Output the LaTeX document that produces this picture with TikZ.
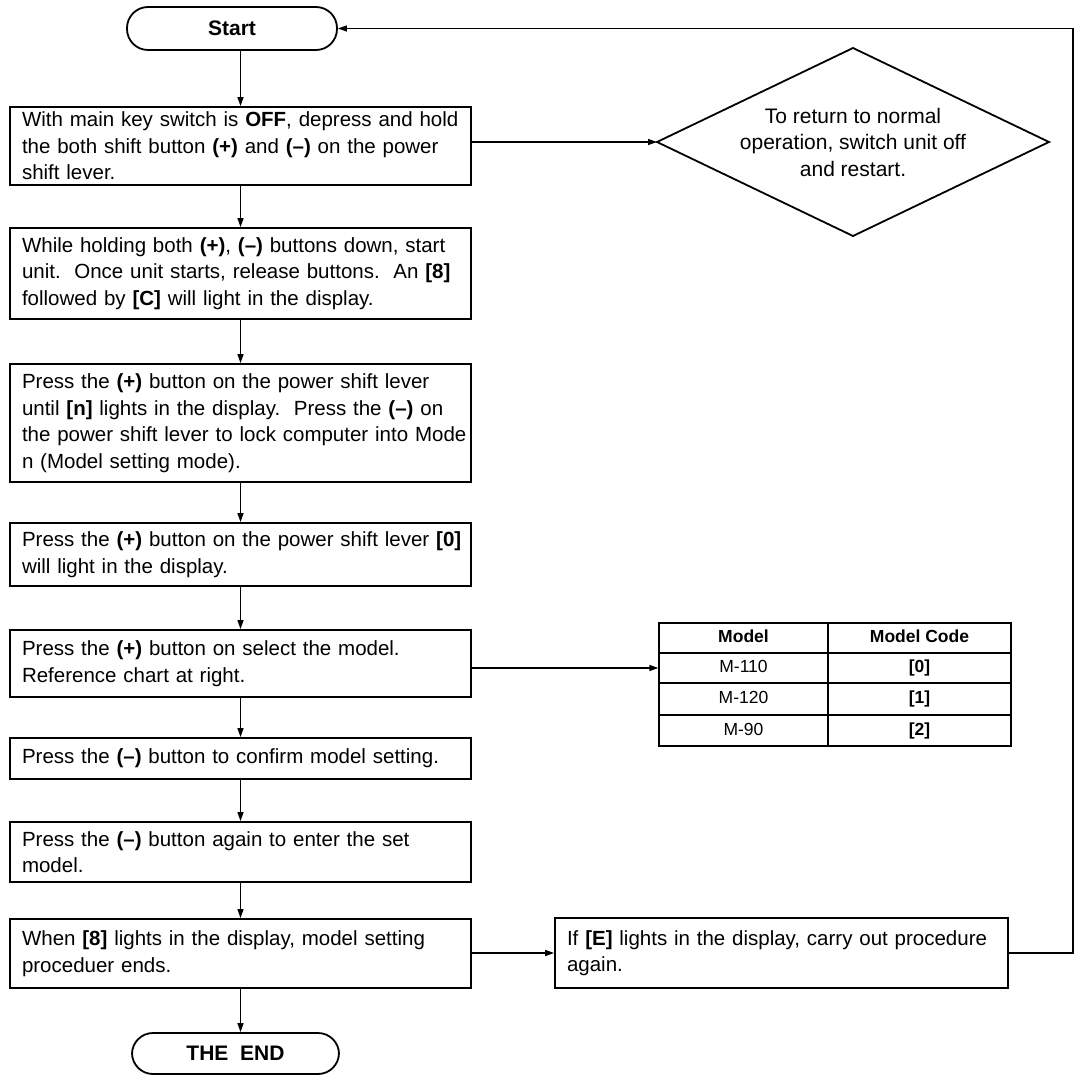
\documentclass[tikz,border=0pt]{standalone}
\usepackage{fontspec}
\setmainfont{Liberation Sans}
\usetikzlibrary{arrows.meta,shapes.geometric}
\begin{document}
\begin{tikzpicture}[x=1pt,y=-1pt,
  stepbox/.style={draw, line width=1.8pt, rectangle, inner xsep=12pt, inner ysep=0pt, align=left, font=\fontsize{20.5}{26.5}\selectfont, anchor=center},
  pill/.style={draw, line width=1.8pt, rectangle, rounded corners=21pt, inner sep=0pt, font=\fontsize{21}{25}\selectfont\bfseries},
  arr/.style={line width=1.4pt, -{Triangle[length=9pt,width=6pt]}},
  cell/.style={draw, line width=1.4pt, inner sep=0pt, text height=12.5pt, text depth=3.5pt, font=\fontsize{17.5}{20}\selectfont},
  diatext/.style={align=center, inner sep=0pt, font=\fontsize{21}{26.5}\selectfont},
]
\useasboundingbox (0,0) rectangle (1076,1075);

% terminals
\node[pill, minimum width=210pt, minimum height=43pt] (start) at (232,28.5) {Start};
\node[pill, minimum width=207pt, minimum height=41pt] (end) at (235.5,1053.5) {THE\ \ END};

% steps
\node[stepbox, minimum width=461pt, minimum height=78pt, text width=437pt] (b1) at (240.5,146)
 {\mbox{With main key switch is \textbf{OFF}, depress and hold}\\\mbox{the both shift button \textbf{(+)} and \textbf{(--)} on the power}\\\mbox{shift lever.}};
\node[stepbox, minimum width=461pt, minimum height=91pt, text width=437pt] (b2) at (240.5,273.5)
 {\mbox{While holding both \textbf{(+)}, \textbf{(--)} buttons down, start}\\\mbox{unit.\ \ Once unit starts, release buttons.\ \ An \textbf{[8]}}\\\mbox{followed by \textbf{[C]} will light in the display.}};
\node[stepbox, minimum width=461pt, minimum height=118pt, text width=437pt] (b3) at (240.5,423)
 {\mbox{Press the \textbf{(+)} button on the power shift lever}\\\mbox{until \textbf{[n]} lights in the display.\ \ Press the \textbf{(--)} on}\\\mbox{the power shift lever to lock computer into Mode}\\\mbox{n (Model setting mode).}};
\node[stepbox, minimum width=461pt, minimum height=63pt, text width=437pt] (b4) at (240.5,554.5)
 {\mbox{Press the \textbf{(+)} button on the power shift lever \textbf{[0]}}\\\mbox{will light in the display.}};
\node[stepbox, minimum width=461pt, minimum height=67pt, text width=437pt] (b5) at (240.5,663.5)
 {\mbox{Press the \textbf{(+)} button on select the model.}\\\mbox{Reference chart at right.}};
\node[stepbox, minimum width=461pt, minimum height=41pt, text width=437pt] (b6) at (240.5,758.5)
 {\mbox{Press the \textbf{(--)} button to confirm model setting.}};
\node[stepbox, minimum width=461pt, minimum height=60pt, text width=437pt] (b7) at (240.5,852)
 {\mbox{Press the \textbf{(--)} button again to enter the set}\\\mbox{model.}};
\node[stepbox, minimum width=461pt, minimum height=69pt, text width=437pt] (b8) at (240.5,953.5)
 {\mbox{When \textbf{[8]} lights in the display, model setting}\\\mbox{proceduer ends.}};
\node[stepbox, minimum width=453pt, minimum height=70pt, text width=429pt] (eb) at (781.5,953)
 {\mbox{If \textbf{[E]} lights in the display, carry out procedure}\\\mbox{again.}};

% decision
\coordinate (dtop) at (853,48);
\coordinate (dright) at (1049,142);
\coordinate (dbot) at (853,236);
\coordinate (dleft) at (657,142);
\draw[line width=1.8pt, line join=miter] (dtop) -- (dright) -- (dbot) -- (dleft) -- cycle;
\node[diatext] (dia) at (853,142) {To return to normal\\operation, switch unit off\\and restart.};

% table
\node[cell, minimum width=169pt, minimum height=30pt] (h1) at (743.5,638) {\bfseries Model};
\node[cell, minimum width=183pt, minimum height=30pt] (h2) at (919.5,638) {\bfseries Model Code};
\node[cell, minimum width=169pt, minimum height=30pt] (m1) at (743.5,668) {M-110};
\node[cell, minimum width=183pt, minimum height=30pt] (c1) at (919.5,668) {\bfseries [0]};
\node[cell, minimum width=169pt, minimum height=32pt] (m2) at (743.5,699) {M-120};
\node[cell, minimum width=183pt, minimum height=32pt] (c2) at (919.5,699) {\bfseries [1]};
\node[cell, minimum width=169pt, minimum height=31pt] (m3) at (743.5,730.5) {M-90};
\node[cell, minimum width=183pt, minimum height=31pt] (c3) at (919.5,730.5) {\bfseries [2]};

% connectors
\draw[arr] (start.south -| b1.north) -- (b1.north);
\draw[arr] (b1) -- (b2);
\draw[arr] (b2) -- (b3);
\draw[arr] (b3) -- (b4);
\draw[arr] (b4) -- (b5);
\draw[arr] (b5) -- (b6);
\draw[arr] (b6) -- (b7);
\draw[arr] (b7) -- (b8);
\draw[arr] (b8.south) -- (b8.south |- end.north);
\draw[arr] (b1.east |- dleft) -- (dleft);
\draw[arr] (b5.east |- m1.west) -- (m1.west);
\draw[arr] (b8.east |- eb.west) -- (eb.west);
\coordinate (fbx) at (1073,0);
\draw[arr] (eb.east) -| (fbx |- start.east) -- (start.east);
\end{tikzpicture}
\end{document}
